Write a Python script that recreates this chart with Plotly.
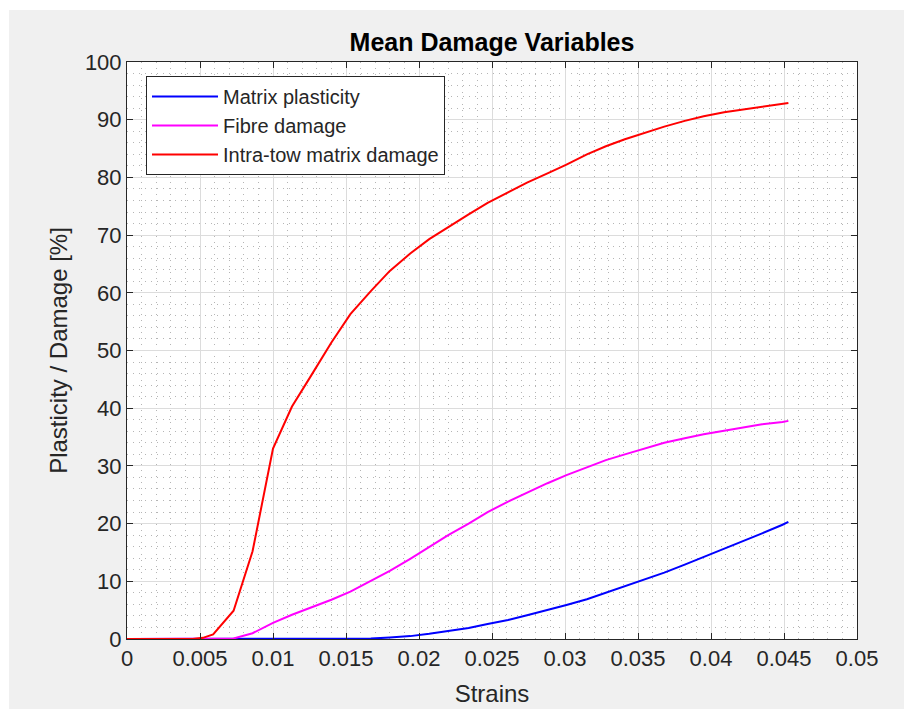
import plotly.graph_objects as go

# ---- data ----
strain = [0, 0.0045, 0.0052, 0.0059, 0.0073, 0.0086, 0.0100, 0.0113, 0.0126, 0.0140,
          0.0153, 0.0167, 0.0180, 0.0194, 0.0207, 0.0220, 0.0234, 0.0247, 0.0261,
          0.0274, 0.0288, 0.0301, 0.0315, 0.0328, 0.0341, 0.0355, 0.0368, 0.0382,
          0.0395, 0.0409, 0.0422, 0.0435, 0.0449, 0.0453]

matrix_plasticity = [0, 0, 0, 0, 0, 0, 0, 0, 0, 0,
                     0, 0.08, 0.25, 0.5, 0.9, 1.4, 1.9, 2.6, 3.3,
                     4.1, 5.0, 5.9, 6.9, 8.0, 9.1, 10.3, 11.5, 12.9,
                     14.2, 15.6, 17.0, 18.3, 19.8, 20.3]

fibre_damage = [0, 0, 0, 0, 0.1, 1.0, 2.8, 4.2, 5.4, 6.8,
                8.2, 10.0, 11.8, 13.9, 16.0, 18.0, 20.0, 22.0, 23.8,
                25.4, 27.0, 28.4, 29.8, 31.0, 32.0, 33.1, 34.0, 34.8,
                35.5, 36.1, 36.7, 37.2, 37.6, 37.8]

intra_tow_damage = [0, 0, 0.2, 0.8, 4.9, 15.2, 33.0, 40.3, 45.6, 51.4,
                    56.3, 60.3, 63.8, 66.8, 69.3, 71.4, 73.6, 75.6, 77.4,
                    79.1, 80.7, 82.2, 84.0, 85.4, 86.6, 87.8, 88.8, 89.8,
                    90.6, 91.3, 91.8, 92.3, 92.8, 92.9]

series_names = ["Matrix plasticity", "Fibre damage", "Intra-tow matrix damage"]
series_colors = ["#0000ff", "#ff00ff", "#ff0000"]

x_tickvals = [0, 0.005, 0.01, 0.015, 0.02, 0.025, 0.03, 0.035, 0.04, 0.045, 0.05]
x_ticktext = ["0", "0.005", "0.01", "0.015", "0.02", "0.025", "0.03", "0.035", "0.04", "0.045", "0.05"]
y_tickvals = [0, 10, 20, 30, 40, 50, 60, 70, 80, 90, 100]
y_ticktext = [str(v) for v in y_tickvals]

# ---- figure ----
W, H = 904, 709
ML, MR, MT, MB = 127, 47, 62, 70
pw, ph = W - ML - MR, H - MT - MB

fig = go.Figure()
for name, ys, col in zip(series_names, [matrix_plasticity, fibre_damage, intra_tow_damage], series_colors):
    fig.add_trace(go.Scatter(x=strain, y=ys, mode="lines", name=name,
                             line=dict(color=col, width=2)))

font_family = "Liberation Sans, Arial, Helvetica, sans-serif"
axis_col = "#262626"
minor_grid = dict(showgrid=True, gridcolor="#b5b5b5", griddash="1px,5px", gridwidth=1, ticks="")

common_axis = dict(
    showline=True, linecolor=axis_col, linewidth=1, mirror="allticks",
    ticks="inside", ticklen=6, tickcolor=axis_col, tickwidth=1,
    showgrid=True, gridcolor="#dcdcdc", gridwidth=1, zeroline=False,
    automargin=False,
    tickfont=dict(family=font_family, size=22, color=axis_col),
)

fig.update_xaxes(
    range=[0, 0.05], tickmode="array", tickvals=x_tickvals, ticktext=x_ticktext,
    minor=dict(dtick=0.001, **minor_grid),
    title=dict(text="Strains", font=dict(family=font_family, size=24, color=axis_col), standoff=14),
    **common_axis)
fig.update_yaxes(
    range=[0, 100], tickmode="array", tickvals=y_tickvals, ticktext=y_ticktext,
    minor=dict(dtick=2, **minor_grid),
    title=dict(text="Plasticity / Damage [%]", font=dict(family=font_family, size=24, color=axis_col), standoff=10),
    **common_axis)

# white strips around the grey figure area (top and left)
top_strip_y0 = (ph + MT - 10) / ph
shapes = [
    dict(type="rect", xref="paper", yref="paper",
         x0=-ML / pw - 0.01, x1=(W - ML) / pw + 0.01, y0=top_strip_y0, y1=(ph + MT) / ph + 0.01,
         fillcolor="white", line=dict(width=0), layer="above"),
    dict(type="rect", xref="paper", yref="paper",
         x0=-ML / pw - 0.01, x1=(9 - ML) / pw, y0=-MB / ph - 0.01, y1=(ph + MT) / ph + 0.01,
         fillcolor="white", line=dict(width=0), layer="above"),
]

fig.update_layout(
    width=W, height=H,
    margin=dict(l=ML, r=MR, t=MT, b=MB, pad=0, autoexpand=False),
    paper_bgcolor="#f0f0f0", plot_bgcolor="white",
    title=dict(text="<b>Mean Damage Variables</b>", x=0.5, xref="paper", xanchor="center",
               y=1 - 42 / H, yref="container", yanchor="middle",
               font=dict(family=font_family, size=25, color="black")),
    legend=dict(x=(146 - ML) / pw, y=(ph - (76 - MT)) / ph, xanchor="left", yanchor="top",
                bgcolor="white", bordercolor=axis_col, borderwidth=1,
                font=dict(family=font_family, size=20, color=axis_col),
                itemwidth=66, tracegroupgap=0),
    showlegend=True,
    shapes=shapes,
)

fig.write_html("out.html")
